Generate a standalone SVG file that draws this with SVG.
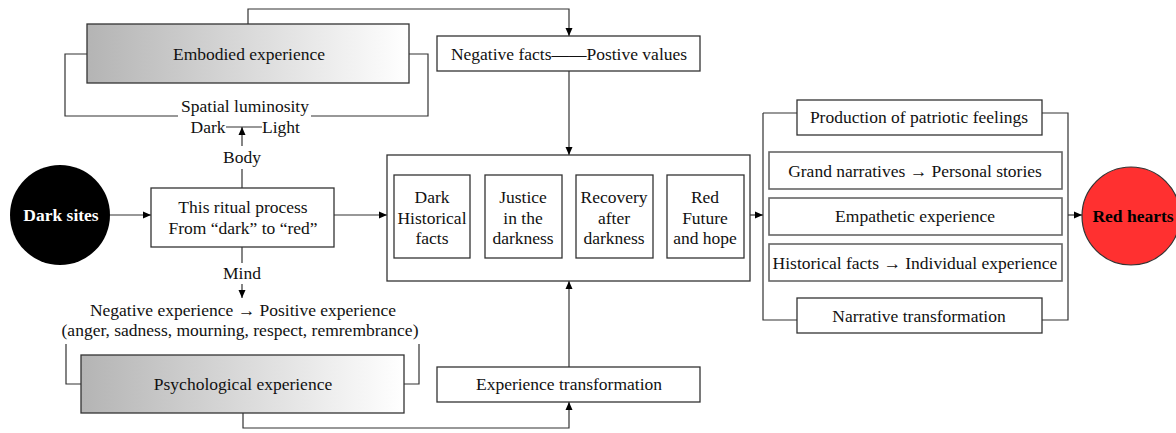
<svg xmlns="http://www.w3.org/2000/svg" width="1176" height="433" viewBox="0 0 1176 433">
<defs>
<linearGradient id="g" x1="0" y1="0" x2="1" y2="0">
<stop offset="0" stop-color="#b4b4b4"/>
<stop offset="1" stop-color="#ffffff"/>
</linearGradient>
<marker id="a" markerWidth="8" markerHeight="8" refX="8" refY="4" orient="auto" markerUnits="userSpaceOnUse">
<path d="M0,0.5 L8,4 L0,7.5 Z" fill="#000"/>
</marker>
</defs>
<style>
text{font-family:"Liberation Serif","Times New Roman",serif;font-size:17.5px;fill:#111;text-anchor:middle}
.b{fill:#fff;stroke:#333;stroke-width:1.3}
.gb{fill:url(#g);stroke:#333;stroke-width:1.3}
.ib{fill:#fff;stroke:#666;stroke-width:1.6}
.l{fill:none;stroke:#333;stroke-width:1.2}
.bold{font-weight:bold}
</style>
<g id="connectors">
<path class="l" d="M110,215 H151" marker-end="url(#a)"/>
<path class="l" d="M334,215 H387" marker-end="url(#a)"/>
<path class="l" d="M750,215 H763" marker-end="url(#a)"/>
<path class="l" d="M1068,215 H1082" marker-end="url(#a)"/>
<path class="l" d="M248,24 V9 H569 V36" marker-end="url(#a)"/>
<path class="l" d="M569,71 V155" marker-end="url(#a)"/>
<path class="l" d="M569,367 V281" marker-end="url(#a)"/>
<path class="l" d="M243,413 V428 H569 V402" marker-end="url(#a)"/>
<path class="l" d="M87,54 H65 V116 H178 M311,116 H428 V54 H409"/>
<path class="l" d="M81,384 H66 V344 M404,384 H419 V344"/>
<path class="l" d="M242,188 V169"/>
<path class="l" d="M242,146 V127" marker-end="url(#a)"/>
<path class="l" d="M226,127 H262"/>
<path class="l" d="M242,247 V263"/>
<path class="l" d="M242,284 V298" marker-end="url(#a)"/>
<path class="l" d="M763,113 V320 H797 M1042,320 H1068 V113 H1042 M797,113 H763"/>
</g>
<g id="dark-sites">
<circle cx="60" cy="215" r="50" fill="#000"/>
<text x="61" y="221" class="bold" style="fill:#fff">Dark sites</text>
</g>
<g id="ritual">
<rect class="b" x="151" y="188" width="183" height="59"/>
<text x="243" y="213">This ritual process</text>
<text x="243" y="234">From “dark” to “red”</text>
</g>
<g id="body-label">
<text x="242" y="163">Body</text>
</g>
<g id="mind-label">
<text x="242" y="279">Mind</text>
</g>
<g id="embodied">
<rect class="gb" x="87" y="24" width="322" height="59"/>
<text x="249" y="60">Embodied experience</text>
</g>
<g id="spatial">
<text x="245" y="112">Spatial luminosity</text>
<text x="208" y="133">Dark</text>
<text x="281" y="133">Light</text>
</g>
<g id="psych-text">
<text x="243" y="316">Negative experience → Positive experience</text>
<text x="240" y="336">(anger, sadness, mourning, respect, remrembrance)</text>
</g>
<g id="psychological">
<rect class="gb" x="81" y="355" width="323" height="58"/>
<text x="243" y="390">Psychological experience</text>
</g>
<g id="neg-facts">
<rect class="b" x="437" y="36" width="263" height="35"/>
<text x="569" y="60">Negative facts——Postive values</text>
</g>
<g id="exp-transform">
<rect class="b" x="437" y="367" width="263" height="35"/>
<text x="569" y="390">Experience transformation</text>
</g>
<g id="stages">
<rect class="b" x="387" y="155" width="363" height="126"/>
<rect class="b" x="394" y="175" width="76" height="83"/>
<text x="432" y="203">Dark</text>
<text x="432" y="224">Historical</text>
<text x="432" y="244">facts</text>
<rect class="b" x="485" y="175" width="77" height="83"/>
<text x="523" y="203">Justice</text>
<text x="523" y="224">in the</text>
<text x="523" y="244">darkness</text>
<rect class="b" x="576" y="175" width="77" height="83"/>
<text x="614" y="203">Recovery</text>
<text x="614" y="224">after</text>
<text x="614" y="244">darkness</text>
<rect class="b" x="667" y="175" width="77" height="83"/>
<text x="705" y="203">Red</text>
<text x="705" y="224">Future</text>
<text x="705" y="244">and hope</text>
</g>
<g id="production">
<rect class="b" x="797" y="100" width="245" height="35"/>
<text x="919" y="123">Production of patriotic feelings</text>
</g>
<g id="grand">
<rect class="ib" x="769" y="152" width="293" height="37"/>
<text x="915" y="177">Grand narratives → Personal stories</text>
</g>
<g id="empathetic">
<rect class="ib" x="769" y="198" width="293" height="37"/>
<text x="915" y="222">Empathetic experience</text>
</g>
<g id="historical">
<rect class="ib" x="769" y="244" width="293" height="37"/>
<text x="915" y="269">Historical facts → Individual experience</text>
</g>
<g id="narrative">
<rect class="b" x="797" y="298" width="245" height="35"/>
<text x="919" y="322">Narrative transformation</text>
</g>
<g id="red-hearts">
<circle cx="1131" cy="216" r="49" fill="#ff3030" stroke="#333" stroke-width="1.2"/>
<text x="1133" y="222" class="bold" style="fill:#000">Red hearts</text>
</g>
</svg>
